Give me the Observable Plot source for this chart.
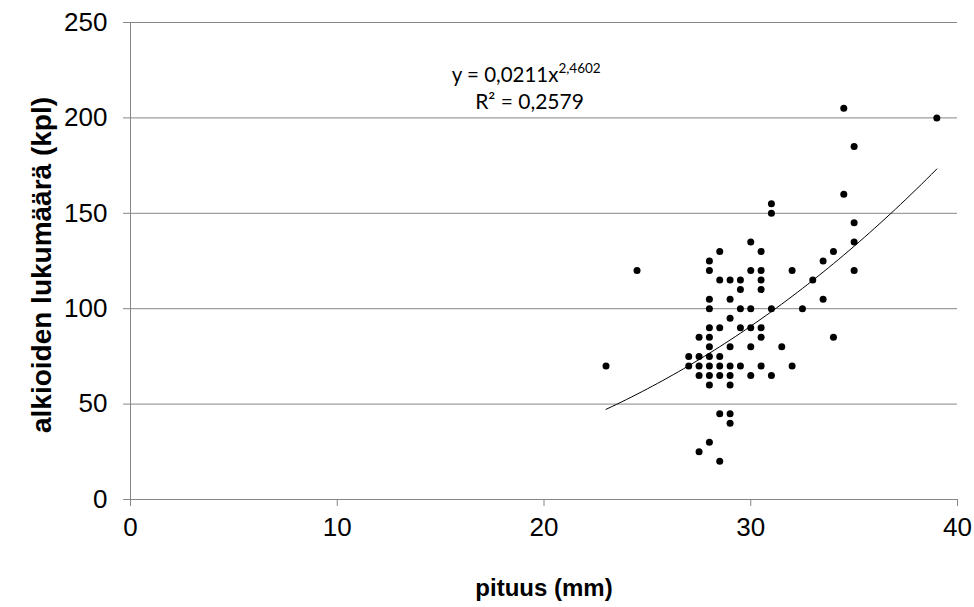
<!DOCTYPE html>
<html>
<head>
<meta charset="utf-8">
<script src="https://cdn.jsdelivr.net/npm/d3@7"></script>
<script src="https://cdn.jsdelivr.net/npm/@observablehq/plot@0.6"></script>
<style>
  html, body { margin: 0; padding: 0; background: #fff; }
</style>
</head>
<body>
<div id="chart"></div>
<script>
// ---- data ----
const lengthMm = [
  23,
  24.5,
  27, 27,
  27.5, 27.5, 27.5, 27.5, 27.5,
  28, 28, 28, 28, 28, 28, 28, 28, 28, 28, 28, 28,
  28.5, 28.5, 28.5, 28.5, 28.5, 28.5, 28.5, 28.5,
  29, 29, 29, 29, 29, 29, 29, 29, 29,
  29.5, 29.5, 29.5, 29.5, 29.5,
  30, 30, 30, 30, 30, 30,
  30.5, 30.5, 30.5, 30.5, 30.5, 30.5, 30.5,
  31, 31, 31, 31,
  31.5,
  32, 32,
  32.5,
  33,
  33.5, 33.5,
  34, 34,
  34.5, 34.5,
  35, 35, 35, 35,
  39
];
const embryoCount = [
  70,
  120,
  75, 70,
  85, 75, 70, 65, 25,
  125, 120, 105, 100, 90, 85, 80, 75, 70, 65, 60, 30,
  130, 115, 90, 75, 70, 65, 45, 20,
  115, 105, 95, 80, 70, 65, 60, 45, 40,
  115, 110, 100, 90, 70,
  135, 120, 100, 90, 80, 65,
  130, 120, 115, 110, 90, 85, 70,
  155, 150, 100, 65,
  80,
  120, 70,
  100,
  115,
  125, 105,
  130, 85,
  205, 160,
  185, 145, 135, 120,
  200
];
const xTicks = [0, 10, 20, 30, 40];
const yTicks = [0, 50, 100, 150, 200, 250];
const gridTicks = [50, 100, 150, 200, 250];
// power trendline as printed on the chart: y = 0,0211 x^2,4602, drawn over x = 23..39
const fitCoef = [0.0211, 2.4602];
const fitRange = [23, 39];
const eqMain = ["y = 0,0211x"];
const eqExp = ["2,4602"];
const eqR2 = ["R\u00B2 = 0,2579"];
const xTitle = ["pituus (mm)"];
const yTitle = ["alkioiden lukumäärä (kpl)"];

const points = lengthMm.map((x, i) => ({x, y: embryoCount[i]}));
const fitX = d3.range(fitRange[0], fitRange[1] + 1e-9, 0.25);
const fit = fitX.map(x => ({x, y: fitCoef[0] * Math.pow(x, fitCoef[1])}));

const gray = "#868686";
const eqFont = "Lato, 'Open Sans', sans-serif";
const chart = Plot.plot({
  width: 974,
  height: 607,
  marginLeft: 130,
  marginRight: 17,
  marginTop: 22,
  marginBottom: 108,
  style: {fontFamily: "'Liberation Sans', Arial, sans-serif", fontSize: "26px", color: "#000", background: "#fff"},
  x: {domain: [0, 40]},
  y: {domain: [0, 250]},
  marks: [
    Plot.gridY(gridTicks, {stroke: gray, strokeOpacity: 1, strokeWidth: 1}),
    Plot.ruleX([0], {stroke: gray, strokeWidth: 1}),
    Plot.ruleY([0], {stroke: gray, strokeWidth: 1}),
    Plot.axisY(yTicks, {tickSize: 7, tickPadding: 16, stroke: gray, fill: "#000", fontSize: 26, label: null}),
    Plot.axisX(xTicks, {tickSize: 7, tickPadding: 11, stroke: gray, fill: "#000", fontSize: 26, label: null}),
    Plot.line(fit, {x: "x", y: "y", stroke: "#000", strokeWidth: 1}),
    Plot.dot(points, {x: "x", y: "y", r: 3.5, fill: "#000", stroke: "none"}),
    Plot.text(eqMain, {x: 20.7, y: 222, text: d => d, textAnchor: "end", fontFamily: eqFont, fontSize: 20.5, fill: "#000"}),
    Plot.text(eqExp, {x: 20.7, y: 222, text: d => d, textAnchor: "start", dy: -7, fontFamily: eqFont, fontSize: 13.5, fill: "#000"}),
    Plot.text(eqR2, {x: 19.3, y: 208, text: d => d, fontFamily: eqFont, fontSize: 21, fill: "#000"}),
    Plot.text(xTitle, {frameAnchor: "bottom", dy: 96, text: d => d, fontWeight: "bold", fontSize: 24, fill: "#000"}),
    Plot.text(yTitle, {frameAnchor: "left", textAnchor: "middle", dx: -88, dy: 4, rotate: -90, text: d => d, fontWeight: "bold", fontSize: 28, fill: "#000"})
  ]
});
document.getElementById("chart").appendChild(chart);
</script>
</body>
</html>
